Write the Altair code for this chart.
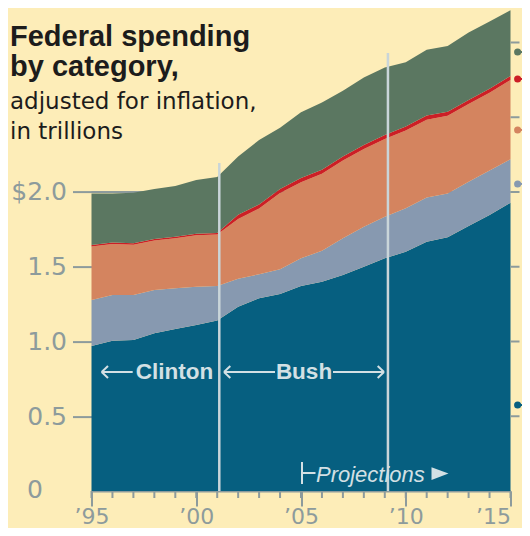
import altair as alt
import pandas as pd

years = list(range(1995, 2016))
categories = ["dark_blue", "blue_gray", "orange", "red", "green"]
dark_blue = [0.97, 1.005, 1.01, 1.055, 1.084, 1.11, 1.14, 1.233, 1.289, 1.318, 1.371,
             1.40, 1.445, 1.50, 1.556, 1.60, 1.668, 1.697, 1.773, 1.846, 1.928]
blue_gray = [0.308, 0.306, 0.301, 0.29, 0.272, 0.257, 0.231, 0.187, 0.161, 0.165, 0.185,
             0.207, 0.245, 0.268, 0.279, 0.291, 0.296, 0.293, 0.296, 0.297, 0.291]
orange = [0.357, 0.341, 0.336, 0.33, 0.334, 0.343, 0.344, 0.40, 0.44, 0.51, 0.51,
          0.515, 0.52, 0.52, 0.52, 0.52, 0.52, 0.52, 0.52, 0.52, 0.53]
red = [0.01, 0.01, 0.01, 0.01, 0.01, 0.01, 0.01, 0.027, 0.027, 0.027, 0.027,
       0.027, 0.027, 0.027, 0.027, 0.027, 0.027, 0.027, 0.027, 0.027, 0.027]
green = [0.345, 0.328, 0.338, 0.335, 0.34, 0.36, 0.375, 0.39, 0.43, 0.41, 0.44,
         0.45, 0.44, 0.45, 0.45, 0.43, 0.44, 0.44, 0.45, 0.45, 0.44]
colors = ["#065f80", "#8799b0", "#d4845f", "#cc1f26", "#5b7761"]

y_ticks = [0.5, 1.0, 1.5, 2.0]
right_ticks = [0.5, 1.0, 1.5, 2.0, 2.5, 3.0]
x_major = [1995, 2000, 2005, 2010, 2015]
term_lines = [2001.1, 2009.15]
term_line_tops = [2.194, 2.93]
legend_y = [0.575, 2.054, 2.415, 2.756, 2.936]
legend_x = [2015.34]

BG = "#fdedb8"
GRAY = "#8d9b9c"
LIGHT = "#d3e0e4"

series = [dark_blue, blue_gray, orange, red, green]
rows = []
for i, (cat, vals) in enumerate(zip(categories, series)):
    for yr, v in zip(years, vals):
        rows.append({"year": yr, "value": v, "cat": cat, "order": i})
df = pd.DataFrame(rows)

xscale = alt.Scale(domain=[1995, 2015], nice=False, zero=False)
yscale = alt.Scale(domain=[0, 3.22], nice=False)
cscale = alt.Scale(domain=categories, range=colors)

xaxis = alt.Axis(values=x_major, title=None, tickSize=15, tickWidth=2, tickColor=GRAY,
                 domainColor=GRAY, domainWidth=2, labelColor=GRAY, labelFont="DejaVu Sans",
                 labelFontSize=22, labelPadding=0, labelFlush=False, labelOverlap=False,
                 labelAlign={"condition": {"test": "datum.value == 2015", "value": "right"},
                             "value": "center"},
                 grid=False,
                 labelExpr="'\u2019' + substring(toString(datum.value), 2, 4)")
yaxis = alt.Axis(values=y_ticks, title=None, tickSize=19, tickWidth=2, tickColor=GRAY,
                 domain=False, labelColor=GRAY, labelFont="DejaVu Sans", labelFontSize=25,
                 labelPadding=6, grid=False,
                 labelExpr="datum.value == 2 ? '$2.0' : format(datum.value, '.1f')")

grid2 = alt.Chart(pd.DataFrame({"v": [2.0]})).mark_rule(color=GRAY, strokeWidth=2).encode(
    y=alt.Y("v:Q", scale=yscale, axis=yaxis),
    x=alt.value(0), x2=alt.value(419))

areas = alt.Chart(df).mark_area(interpolate="linear").encode(
    x=alt.X("year:Q", scale=xscale, axis=xaxis),
    y=alt.Y("value:Q", stack="zero", scale=yscale, axis=yaxis),
    color=alt.Color("cat:N", scale=cscale, legend=None),
    order=alt.Order("order:Q"))

minor = alt.Chart(pd.DataFrame({"year": years})).mark_rule(color=GRAY, strokeWidth=2).encode(
    x=alt.X("year:Q", scale=xscale, axis=xaxis),
    y=alt.value(481.4), y2=alt.value(488.4))

rticks = alt.Chart(pd.DataFrame({"v": right_ticks})).mark_rule(color=GRAY, strokeWidth=2).encode(
    y=alt.Y("v:Q", scale=yscale, axis=yaxis),
    x=alt.value(419), x2=alt.value(428))

vlines = alt.Chart(pd.DataFrame({"x": term_lines, "top": term_line_tops})).mark_rule(
    color="#c9d5d9", strokeWidth=2.5).encode(
    x=alt.X("x:Q", scale=xscale, axis=xaxis),
    y=alt.Y("top:Q", scale=yscale, axis=yaxis),
    y2=alt.datum(0))

leg_df = pd.DataFrame({"y": legend_y, "cat": categories, "x": legend_x * 5})
leg_lines = alt.Chart(leg_df).mark_rule(strokeWidth=2, clip=False).encode(
    y=alt.Y("y:Q", scale=yscale, axis=yaxis),
    x=alt.X("x:Q", scale=xscale, axis=xaxis), x2=alt.value(440),
    color=alt.Color("cat:N", scale=cscale, legend=None))
leg_dots = alt.Chart(leg_df).mark_point(filled=True, size=50, opacity=1, clip=False).encode(
    y=alt.Y("y:Q", scale=yscale, axis=yaxis),
    x=alt.X("x:Q", scale=xscale, axis=xaxis),
    color=alt.Color("cat:N", scale=cscale, legend=None))

one = alt.Data(values=[{}])


def text(s, x, y, **kw):
    return alt.Chart(one).mark_text(text=s, **kw).encode(x=alt.value(x), y=alt.value(y))


def seg(x1, y1, x2, y2, color=LIGHT, w=2):
    return alt.Chart(one).mark_rule(color=color, strokeWidth=w).encode(
        x=alt.value(x1), y=alt.value(y1), x2=alt.value(x2), y2=alt.value(y2))


title_font = "Liberation Sans"
texts = [
    text("Federal spending", -81.5, 36.4, font=title_font, fontSize=29, fontWeight="bold",
         color="#1c1c1c", align="left", baseline="alphabetic"),
    text("by category,", -81.5, 66.4, font=title_font, fontSize=29, fontWeight="bold",
         color="#1c1c1c", align="left", baseline="alphabetic"),
    text("adjusted for inflation,", -81.5, 99.4, font="DejaVu Sans", fontSize=23,
         color="#1c1c1c", align="left", baseline="alphabetic"),
    text("in trillions", -81.5, 129.4, font="DejaVu Sans", fontSize=23,
         color="#1c1c1c", align="left", baseline="alphabetic"),
    text("0", -64.5, 480.4, font="DejaVu Sans", fontSize=25, color=GRAY,
         align="left", baseline="middle"),
    text("Clinton", 83, 362.4, font="Liberation Sans",
         fontSize=22.5, fontWeight="bold", color=LIGHT, align="center", baseline="middle"),
    text("Bush", 212.5, 362.4, font="Liberation Sans",
         fontSize=22.5, fontWeight="bold", color=LIGHT, align="center", baseline="middle"),
    text("Projections", 224.5, 472.4, font="Liberation Sans", fontSize=22, fontStyle="italic",
         color=LIGHT, align="left", baseline="alphabetic"),
]

arrows = [
    # Clinton arrow (points left)
    seg(10.2, 362.4, 41.2, 362.4), seg(10.2, 362.4, 16.5, 356.4), seg(10.2, 362.4, 16.5, 368.4),
    # Bush left arrow
    seg(132.5, 362.4, 183.5, 362.4), seg(132.5, 362.4, 138.8, 356.4), seg(132.5, 362.4, 138.8, 368.4),
    # Bush right arrow
    seg(241.5, 362.4, 292.5, 362.4), seg(292.5, 362.4, 286.2, 356.4), seg(292.5, 362.4, 286.2, 368.4),
    # Projections bracket
    seg(210.5, 452.4, 210.5, 474.4), seg(210.5, 463.4, 224, 463.4),
]

tri = alt.Chart(one).mark_point(shape="M-1,-0.75L1,0L-1,0.75Z", filled=True, size=289,
                                color=LIGHT, opacity=1).encode(
    x=alt.value(348.5), y=alt.value(463.9))

chart = alt.layer(grid2, areas, minor, rticks, vlines, leg_lines, leg_dots,
                  *arrows, tri, *texts).properties(
    width=419, height=481.4,
    padding={"left": 83.5, "top": 1.6, "right": 11.5, "bottom": 37},
    autosize=alt.AutoSizeParams(type="none"),
    background=BG,
).configure_view(stroke=None)

chart.save("out.html", embed_options={"renderer": "svg", "actions": False})
